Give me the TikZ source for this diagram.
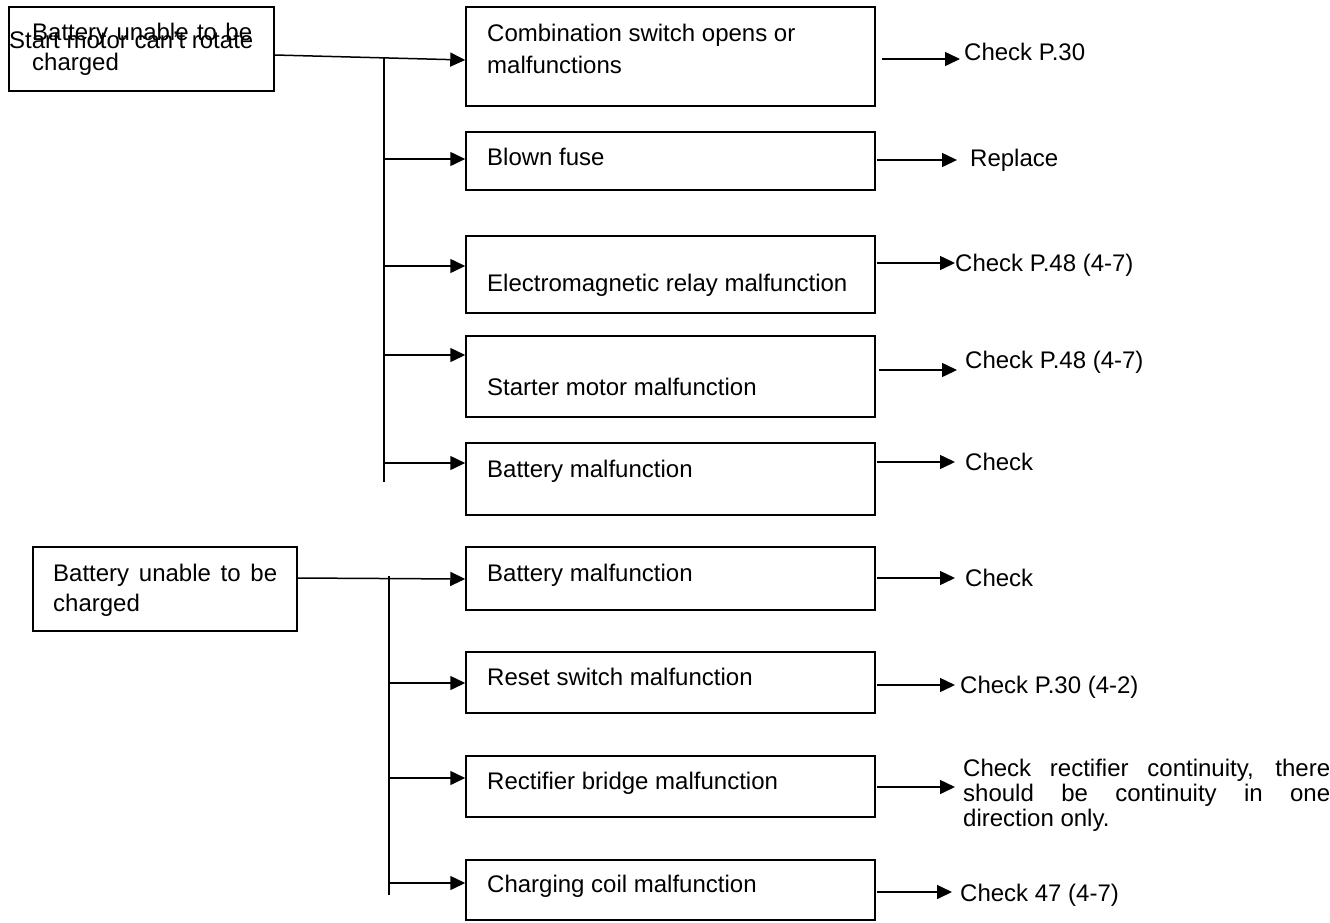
\documentclass[tikz,border=0pt]{standalone}
\usepackage{fontspec}
\setmainfont{Liberation Sans}
\usetikzlibrary{arrows.meta,calc}

\begin{document}
\begin{tikzpicture}[x=1pt,y=-1pt,
    box/.style={rectangle, draw, line width=1.5pt, inner sep=0pt, minimum width=409pt},
    txt/.style={anchor=base west, inner sep=0pt, align=left, font=\fontsize{24}{30}\selectfont},
    link/.style={line width=1.5pt, -{Triangle[length=15pt,width=14pt]}},
    bus/.style={line width=1.5pt}]

    \useasboundingbox (0,0) rectangle (1330,922);

        % Boxes, upper group
    \node (motor) [box, minimum width=265pt, minimum height=84pt] at (141.5,49) {};
    \node (comb) [box, minimum height=99pt] at (670.5,56.5) {};
    \node (fuse) [box, minimum height=58pt] at (670.5,161) {};
    \node (relay) [box, minimum height=77pt] at (670.5,274.5) {};
    \node (starter) [box, minimum height=81pt] at (670.5,376.5) {};
    \node (batta) [box, minimum height=72pt] at (670.5,479) {};

        % Boxes, lower group
    \node (charge) [box, minimum width=264pt, minimum height=84pt] at (165,589) {};
    \node (battb) [box, minimum height=63pt] at (670.5,578.5) {};
    \node (reset) [box, minimum height=61pt] at (670.5,682.5) {};
    \node (bridge) [box, minimum height=61pt] at (670.5,786.5) {};
    \node (coil) [box, minimum height=60pt] at (670.5,890) {};

        % Texts in the boxes
    \node (motortxt) [txt] at (9,48) {Start motor can't rotate};
    \node (motornote) [txt, align=justify, text width=220pt] at (32,40) {Battery unable to be\linebreak charged};
    \node (combtxt) [txt, font=\fontsize{24}{32}\selectfont] at (487,73) {Combination switch opens or\\malfunctions};
    \node (fusetxt) [txt] at (487,165) {Blown fuse};
    \node (relaytxt) [txt] at (487,291) {Electromagnetic relay malfunction};
    \node (startertxt) [txt] at (487,395) {Starter motor malfunction};
    \node (battatxt) [txt] at (487,477) {Battery malfunction};
    \node (chargetxt) [txt, align=justify, text width=224pt] at (53,581) {Battery unable to be\linebreak charged};
    \node (battbtxt) [txt] at (487,581) {Battery malfunction};
    \node (resettxt) [txt] at (487,685) {Reset switch malfunction};
    \node (bridgetxt) [txt] at (487,789) {Rectifier bridge malfunction};
    \node (coiltxt) [txt] at (487,892) {Charging coil malfunction};

        % Remedies
    \node (chk1) [txt] at (964,60) {Check P.30};
    \node (chk2) [txt] at (970,166) {Replace};
    \node (chk3) [txt] at (955,271) {Check P.48 (4-7)};
    \node (chk4) [txt] at (965,368) {Check P.48 (4-7)};
    \node (chk5) [txt] at (965,470) {Check};
    \node (chk6) [txt] at (965,586) {Check};
    \node (chk7) [txt] at (960,693) {Check P.30 (4-2)};
    \node (chk8) [txt, align=justify, text width=367pt, font=\fontsize{24}{25}\selectfont] at (963,776)
        {Check rectifier continuity, there\linebreak should be continuity in one\linebreak direction only.};
    \node (chk9) [txt] at (960,901) {Check 47 (4-7)};

        % Buses
    \coordinate (topbus) at (384,57);
    \coordinate (topend) at (384,482);
    \coordinate (lowbus) at (389,576);
    \coordinate (lowend) at (389,895);
    \draw [bus] (topbus) -- (topend);
    \draw [bus] (lowbus) -- (lowend);

        % Arrows, upper group
    \draw [link] ($(motor.east)+(0,6)$) -- ($(comb.west)+(0,3.5)$);
    \draw [link] ($(fuse.west -| topbus)+(0,-2)$) -- ($(fuse.west)+(0,-2)$);
    \draw [link] ($(relay.west -| topbus)+(0,-8.5)$) -- ($(relay.west)+(0,-8.5)$);
    \draw [link] ($(starter.west -| topbus)+(0,-21.5)$) -- ($(starter.west)+(0,-21.5)$);
    \draw [link] ($(batta.west -| topbus)+(0,-16)$) -- ($(batta.west)+(0,-16)$);

    \draw [link] ($(comb.east)+(6,2.5)$) -- ($(chk1.west |- comb.east)+(-4,2.5)$);
    \draw [link] ($(fuse.east)+(1,-1)$) -- ($(chk2.west |- fuse.east)+(-13,-1)$);
    \draw [link] ($(relay.east)+(1,-11.5)$) -- ($(chk3.west |- relay.east)+(0,-11.5)$);
    \draw [link] ($(starter.east)+(3,-6.5)$) -- ($(chk4.west |- starter.east)+(-8,-6.5)$);
    \draw [link] ($(batta.east)+(1,-17)$) -- ($(chk5.west |- batta.east)+(-10,-17)$);

        % Arrows, lower group
    \draw [link] ($(charge.east)+(0,-11)$) -- ($(battb.west)+(0,0.5)$);
    \draw [link] ($(reset.west -| lowbus)+(0,0.5)$) -- ($(reset.west)+(0,0.5)$);
    \draw [link] ($(bridge.west -| lowbus)+(0,-8.5)$) -- ($(bridge.west)+(0,-8.5)$);
    \draw [link] ($(coil.west -| lowbus)+(0,-7)$) -- ($(coil.west)+(0,-7)$);

    \draw [link] ($(battb.east)+(1,-0.5)$) -- ($(chk6.west |- battb.east)+(-10,-0.5)$);
    \draw [link] ($(reset.east)+(1,2.5)$) -- ($(chk7.west |- reset.east)+(-5,2.5)$);
    \draw [link] ($(bridge.east)+(1,0.5)$) -- ($(chk8.west |- bridge.east)+(-8,0.5)$);
    \draw [link] ($(coil.east)+(1,2)$) -- ($(chk9.west |- coil.east)+(-8,2)$);

\end{tikzpicture}
\end{document}
